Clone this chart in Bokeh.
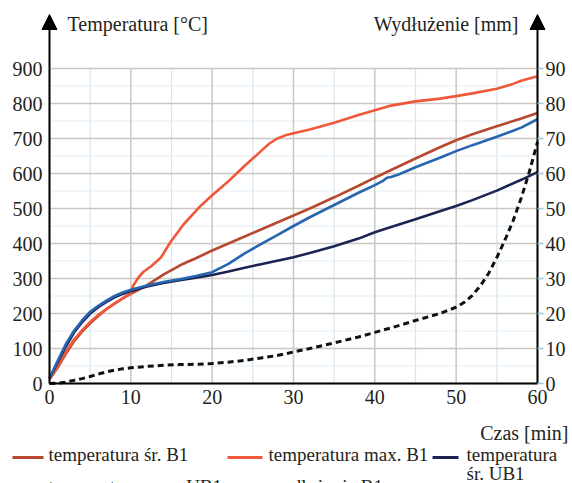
from bokeh.plotting import figure
from bokeh.models import Range1d, LinearAxis, FixedTicker, Label, Arrow, NormalHead
from bokeh.embed import file_html
from bokeh.resources import INLINE

# ---------------- data ----------------
x_ticks = [0, 10, 20, 30, 40, 50, 60]
x_minor = [5, 15, 25, 35, 45, 55]
y_ticks = [0, 100, 200, 300, 400, 500, 600, 700, 800, 900]
y_minor = [50, 150, 250, 350, 450, 550, 650, 750, 850]
mm_ticks = [0, 10, 20, 30, 40, 50, 60, 70, 80, 90]

t_sr_b1 = [0, 1, 2, 3, 4, 5, 6, 7, 8, 9, 10, 11, 12, 13, 14, 15, 16, 17, 18, 20, 22, 24, 26, 28, 30,
           32, 35, 38, 40, 42, 45, 48, 50, 52, 55, 58, 60]
temp_sr_b1 = [12, 45, 85, 120, 148, 172, 193, 212, 228, 243, 256, 268, 281, 296, 311, 324, 337, 348, 358,
              380, 400, 420, 440, 460, 480, 500, 532, 565, 588, 610, 643, 675, 695, 712, 735, 757, 773]

t_max_b1 = [0, 1, 2, 3, 4, 5, 6, 7, 8, 9, 10, 10.3, 11, 11.6, 12.5, 13.7, 14.9, 16.5, 18.6, 20, 22, 24,
            26, 27, 28, 29, 30, 32, 35, 38, 40, 42, 45, 48, 50, 52, 55, 57, 58, 60]
temp_max_b1 = [12, 48, 90, 125, 152, 176, 196, 213, 229, 243, 258, 280, 305, 320, 335, 360, 405, 455,
               508, 538, 578, 622, 664, 685, 700, 709, 715, 726, 745, 767, 781, 794, 806, 814, 821, 829,
               842, 856, 865, 878]

t_max_ub1 = [0, 1, 2, 3, 4, 5, 6, 7, 8, 9, 10, 12, 14, 16, 18, 20, 22, 24, 26, 28, 30, 32, 35, 38, 40,
             41, 41.5, 42, 43, 45, 48, 50, 52, 55, 57, 58, 60]
temp_max_ub1 = [15, 65, 112, 150, 180, 205, 222, 237, 250, 260, 268, 280, 290, 298, 307, 318, 342, 372,
                398, 424, 450, 475, 510, 545, 567, 579, 588, 590, 598, 618, 645, 664, 681, 705, 722, 731, 755]

t_sr_ub1 = [0, 1, 2, 3, 4, 5, 6, 7, 8, 9, 10, 12, 14, 16, 18, 20, 22, 24, 26, 28, 30, 32, 35, 38, 40,
            42, 45, 48, 50, 52, 55, 58, 60]
temp_sr_ub1 = [15, 60, 105, 145, 175, 200, 218, 233, 246, 256, 264, 277, 287, 295, 302, 310, 320, 331,
               341, 351, 361, 373, 392, 414, 432, 447, 469, 492, 507, 524, 551, 582, 604]

t_wydl_b1 = [0, 1, 2, 3, 4, 5, 6, 7, 8, 9, 10, 12, 14, 16, 18, 20, 22, 24, 26, 28, 30, 32, 35, 38, 40,
             42, 45, 48, 50, 51, 52, 53, 54, 55, 56, 57, 58, 59, 60]
wydl_b1 = [0, 0.1, 0.4, 0.9, 1.4, 2.0, 2.7, 3.3, 3.8, 4.2, 4.5, 4.9, 5.2, 5.4, 5.5, 5.7, 6.1, 6.6, 7.3,
           8.0, 9.0, 10.0, 11.6, 13.3, 14.6, 15.9, 18.0, 20.0, 21.8, 23.2, 25.2, 28.0, 31.5, 36.0, 41.0,
           46.5, 53.0, 60.5, 69.0]

legend_labels = ["temperatura śr. B1", "temperatura max. B1", "temperatura\nśr. UB1",
                 "temperatura max. UB1", "wydłużenie B1"]

C_SR_B1 = "#b8482f"
C_MAX_B1 = "#f0583a"
C_SR_UB1 = "#1c2453"
C_MAX_UB1 = "#2765b0"
C_WYDL = "#111111"
TXT = "#231f20"
FONT = "Liberation Serif"
GRID_MAJ = "#cbc7c4"
GRID_MIN = "#d6e6f0"

# ---------------- geometry (canvas px) ----------------
W, H = 572, 483
X0PX, X60PX = 49, 537     # canvas x of t=0 and t=60
Y0PX, Y900PX = 383, 68    # canvas y of 0 and 900
sx = (X60PX - X0PX) / 60.0
sy = (Y0PX - Y900PX) / 900.0
x_lo, x_hi = -X0PX / sx, 60 + (W - X60PX) / sx
y_lo, y_hi = -(H - Y0PX) / sy, 900 + Y900PX / sy

def dx(px):
    return x_lo + px / sx
def dy(py):
    return y_hi - py / sy

p = figure(width=W, height=H, x_range=Range1d(x_lo, x_hi), y_range=Range1d(y_lo, y_hi),
           output_backend="svg", toolbar_location=None,
           x_axis_location=None, y_axis_location=None,
           min_border_left=0, min_border_right=0, min_border_top=0, min_border_bottom=0)
p.extra_y_ranges = {"mm": Range1d(y_lo / 10.0, y_hi / 10.0)}
p.outline_line_color = None
p.background_fill_color = "white"
p.border_fill_color = "white"
p.grid.visible = False

# ---------------- grid (limited to the data area) ----------------
p.segment(x0=x_minor, y0=[0] * len(x_minor), x1=x_minor, y1=[900] * len(x_minor),
          line_color=GRID_MIN, line_width=1.2)
p.segment(x0=[0] * len(y_minor), y0=y_minor, x1=[60] * len(y_minor), y1=y_minor,
          line_color="#e2edf4", line_width=1)
p.segment(x0=x_ticks, y0=[0] * len(x_ticks), x1=x_ticks, y1=[900] * len(x_ticks),
          line_color=GRID_MAJ, line_width=1.5)
p.segment(x0=[0] * len(y_ticks), y0=y_ticks, x1=[60] * len(y_ticks), y1=y_ticks,
          line_color=GRID_MAJ, line_width=1.5)

# ---------------- series ----------------
p.line(t_sr_b1, temp_sr_b1, line_color=C_SR_B1, line_width=2.6)
p.line(t_max_b1, temp_max_b1, line_color=C_MAX_B1, line_width=2.6)
p.line(t_sr_ub1, temp_sr_ub1, line_color=C_SR_UB1, line_width=2.6)
p.line(t_max_ub1, temp_max_ub1, line_color=C_MAX_UB1, line_width=2.6)
p.line(t_wydl_b1, wydl_b1, y_range_name="mm", line_color=C_WYDL, line_width=3, line_dash="6 4")

# ---------------- axes ----------------
def style_axis(ax, standoff, tick_out=0, tick_color="black"):
    ax.axis_line_color = "black"
    ax.axis_line_width = 2
    ax.major_tick_out = tick_out
    ax.major_tick_in = 0
    ax.major_tick_line_color = tick_color
    ax.major_tick_line_width = 1.5
    ax.minor_tick_line_color = None
    ax.major_label_standoff = standoff
    ax.major_label_text_font = FONT
    ax.major_label_text_font_size = "20px"
    ax.major_label_text_color = TXT

xax = LinearAxis(ticker=FixedTicker(ticks=x_ticks), fixed_location=0, bounds=(0, 60))
style_axis(xax, 6)
p.add_layout(xax, "below")

yax = LinearAxis(ticker=FixedTicker(ticks=y_ticks), fixed_location=0, bounds=(0, 900))
style_axis(yax, 7)
p.add_layout(yax, "left")

rax = LinearAxis(y_range_name="mm", ticker=FixedTicker(ticks=mm_ticks), fixed_location=60, bounds=(0, 90))
style_axis(rax, 2, tick_out=6, tick_color="#9cc3dc")
p.add_layout(rax, "right")

# axis arrows
for xa in (0, 60):
    p.add_layout(Arrow(x_start=xa, y_start=900, x_end=xa, y_end=dy(14), start=None,
                       end=NormalHead(size=15, fill_color="black", line_color="black", line_width=1),
                       line_color="black", line_width=2))

# ---------------- texts ----------------
def lab(px, py, text, align="left", size="20px"):
    p.add_layout(Label(x=dx(px), y=dy(py), text=text, text_font=FONT, text_font_size=size,
                       text_color=TXT, text_align=align, text_baseline="middle"))

lab(67, 23, "Temperatura [°C]")
lab(518, 23, "Wydłużenie [mm]", align="right")
lab(568, 432, "Czas [min]", align="right")

# ---------------- legend ----------------
# (line x0, line x1, text x, row y, colour, dashed)
items = [(12, 43, 48, 457, C_SR_B1, None),
         (227, 262, 268, 457, C_MAX_B1, None),
         (432, 458, 466, 457, C_SR_UB1, None),
         (12, 43, 48, 489, C_MAX_UB1, None),
         (227, 262, 268, 489, C_WYDL, "6 4")]
for (x0, x1, xt, ry, col, dash), text in zip(items, legend_labels):
    kw = dict(line_dash=dash) if dash else {}
    p.segment(x0=[dx(x0)], y0=[dy(ry)], x1=[dx(x1)], y1=[dy(ry)], line_color=col, line_width=3, **kw)
    for k, part in enumerate(text.split("\n")):
        lab(xt, ry - 3 + 19 * k, part, size="19px")

open("out.html", "w").write(file_html(p, INLINE))
